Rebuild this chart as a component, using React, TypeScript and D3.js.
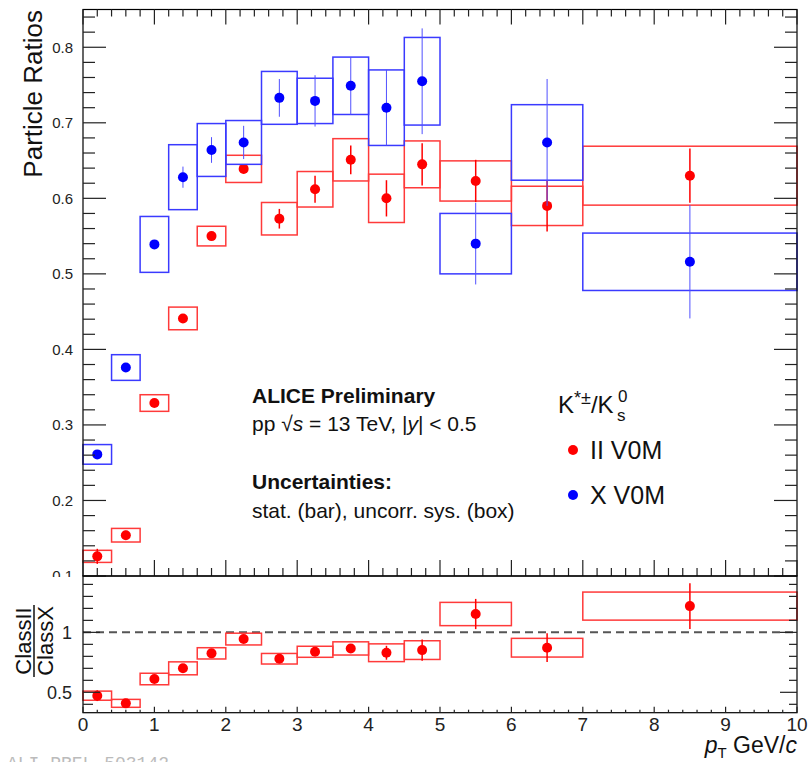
import React from "react";
import * as d3 from "d3";

// pT bins (GeV/c)
const binLo = [0, 0.4, 0.8, 1.2, 1.6, 2.0, 2.5, 3.0, 3.5, 4.0, 4.5, 5, 6, 7];
const binHi = [0.4, 0.8, 1.2, 1.6, 2.0, 2.5, 3.0, 3.5, 4.0, 4.5, 5, 6, 7, 10];
const ptCenter = [0.2, 0.6, 1.0, 1.4, 1.8, 2.25, 2.75, 3.25, 3.75, 4.25, 4.75, 5.5, 6.5, 8.5];

// class II V0M
const iiVal = [0.126, 0.154, 0.329, 0.441, 0.55, 0.639, 0.573, 0.612, 0.651, 0.6, 0.645, 0.623, 0.59, 0.63];
const iiStat = [0.01, 0.006, 0.005, 0.005, 0.005, 0.006, 0.013, 0.018, 0.019, 0.024, 0.028, 0.028, 0.034, 0.036];
const iiSys = [0.008, 0.009, 0.011, 0.015, 0.013, 0.018, 0.0215, 0.0235, 0.028, 0.032, 0.031, 0.0266, 0.026, 0.039];

// class X V0M
const xVal = [0.261, 0.376, 0.539, 0.628, 0.664, 0.674, 0.733, 0.729, 0.749, 0.72, 0.755, 0.54, 0.674, 0.516];
const xStat = [0.004, 0.005, 0.005, 0.014, 0.017, 0.022, 0.025, 0.034, 0.038, 0.05, 0.07, 0.054, 0.084, 0.075];
const xSys = [0.013, 0.017, 0.037, 0.043, 0.035, 0.029, 0.035, 0.03, 0.038, 0.05, 0.058, 0.04, 0.05, 0.038];

// ratio II / X
const ratioVal = [0.472, 0.408, 0.611, 0.7, 0.825, 0.944, 0.78, 0.838, 0.866, 0.83, 0.852, 1.153, 0.872, 1.219];
const ratioStat = [0.045, 0.015, 0.012, 0.012, 0.012, 0.015, 0.015, 0.02, 0.03, 0.058, 0.089, 0.126, 0.12, 0.19];
const ratioSys = [0.038, 0.033, 0.048, 0.054, 0.047, 0.049, 0.044, 0.046, 0.055, 0.074, 0.078, 0.097, 0.078, 0.117];

const xTicks = [0, 1, 2, 3, 4, 5, 6, 7, 8, 9, 10];
const topYTicks = [0.1, 0.2, 0.3, 0.4, 0.5, 0.6, 0.7, 0.8];
const ratioYTicks = [0.5, 1];

const RED = "#ff0000";
const BLUE = "#0000ff";
const FONT = "'Liberation Sans', Arial, sans-serif";

const L = 83, R = 797, T = 9.5, MID = 576, B = 712.7;

const App = () => {
  const x = d3.scaleLinear().domain([0, 10]).range([L, R]);
  const y = d3.scaleLinear().domain([0.1, 0.85]).range([MID, T]);
  const yr = d3.scaleLinear().domain([0.33, 1.47]).range([B, MID]);

  const xMinor = d3.range(0, 10.001, 0.2);
  const yMinor = d3.range(0.1, 0.851, 0.02);
  const yrMinor = d3.range(0.4, 1.47, 0.1);

  const series = (vals, stat, sys, color, boxColor, statColor, statW, yS) => (
    <g>
      {vals.map((v, i) => (
        <rect key={"b" + i} x={x(binLo[i])} y={yS(v + sys[i])}
          width={x(binHi[i]) - x(binLo[i])} height={yS(v - sys[i]) - yS(v + sys[i])}
          fill="none" stroke={boxColor} strokeWidth={1.5} />
      ))}
      {vals.map((v, i) => (
        <line key={"s" + i} x1={x(ptCenter[i])} x2={x(ptCenter[i])}
          y1={yS(v + stat[i])} y2={yS(v - stat[i])} stroke={statColor} strokeWidth={statW} />
      ))}
      {vals.map((v, i) => (
        <circle key={"p" + i} cx={x(ptCenter[i])} cy={yS(v)} r={5} fill={color} />
      ))}
    </g>
  );

  return (
    <svg width={808} height={762} style={{ position: "absolute", left: 0, top: 0, background: "#fff" }}
      fontFamily={FONT}>
      <rect width={808} height={762} fill="#fff" />

      {/* top panel data */}
      {series(iiVal, iiStat, iiSys, RED, "#ff3a3a", RED, 1.5, y)}
      {series(xVal, xStat, xSys, BLUE, "#3a3aff", "#5050ff", 1, y)}

      {/* top panel frame & ticks */}
      <rect x={L} y={T} width={R - L} height={MID - T} fill="none" stroke="#000" strokeWidth={1.2} />
      {yMinor.map((t, i) => {
        const major = Math.abs(t * 10 - Math.round(t * 10)) < 1e-6;
        const len = major ? 23 : 12;
        return (
          <g key={"ym" + i} stroke="#222" strokeWidth={1.2}>
            <line x1={L} x2={L + len} y1={y(t)} y2={y(t)} />
            <line x1={R} x2={R - len} y1={y(t)} y2={y(t)} />
          </g>
        );
      })}
      {xMinor.map((t, i) => {
        const major = Math.abs(t - Math.round(t)) < 1e-6;
        return (
          <g key={"xm" + i} stroke="#222" strokeWidth={1.2}>
            <line x1={x(t)} x2={x(t)} y1={T} y2={T + (major ? 15 : 7)} />
            <line x1={x(t)} x2={x(t)} y1={MID} y2={MID - (major ? 16 : 8)} />
          </g>
        );
      })}
      {topYTicks.map((t) => (
        <text key={"yl" + t} x={73} y={y(t)} dy="0.36em" textAnchor="end" fontSize={15} fill="#222">
          {t.toFixed(1)}
        </text>
      ))}

      {/* y title */}
      <text transform={`translate(42,10) rotate(-90)`} textAnchor="end" fontSize={26} fill="#111">
        Particle Ratios
      </text>

      {/* annotations */}
      <g fill="#111">
        <text x={252} y={403} fontSize={21} fontWeight="bold">ALICE Preliminary</text>
        <text x={252} y={431} fontSize={21}>
          pp <tspan>√</tspan><tspan fontStyle="italic">s</tspan> = 13 TeV, |<tspan fontStyle="italic">y</tspan>| &lt; 0.5
        </text>
        <text x={252} y={489} fontSize={21} fontWeight="bold">Uncertainties:</text>
        <text x={252} y={518} fontSize={21}>stat. (bar), uncorr. sys. (box)</text>
      </g>

      {/* legend */}
      <g fill="#111">
        <text x={558} y={413} fontSize={24}>
          K<tspan fontSize={18} dy={-9}>*±</tspan><tspan dy={9}>/K</tspan>
        </text>
        <text x={617} y={421} fontSize={17}>s</text>
        <text x={618} y={402} fontSize={17}>0</text>
        <circle cx={573} cy={450} r={5} fill={RED} />
        <text x={590} y={459} fontSize={25}>II V0M</text>
        <circle cx={573} cy={495} r={5} fill={BLUE} />
        <text x={590} y={504} fontSize={25}>X V0M</text>
      </g>

      {/* cover for cut 0.1 label */}
      <rect x={0} y={MID + 1} width={L} height={B - MID} fill="#fff" />

      {/* ratio panel */}
      <line x1={L} x2={R} y1={yr(1)} y2={yr(1)} stroke="#555" strokeWidth={2} strokeDasharray="8,5" />
      {series(ratioVal, ratioStat, ratioSys, RED, "#ff3a3a", RED, 1.5, yr)}
      <rect x={L} y={MID} width={R - L} height={B - MID} fill="none" stroke="#000" strokeWidth={1.2} />
      {yrMinor.map((t, i) => {
        const major = Math.abs(t - 0.5) < 1e-6 || Math.abs(t - 1) < 1e-6;
        return (
          <g key={"yr" + i} stroke="#222" strokeWidth={1.2}>
            <line x1={L} x2={L + (major ? 17 : 10)} y1={yr(t)} y2={yr(t)} />
            <line x1={R} x2={R - (major ? 17 : 8)} y1={yr(t)} y2={yr(t)} />
          </g>
        );
      })}
      {xMinor.map((t, i) => {
        const major = Math.abs(t - Math.round(t)) < 1e-6;
        return (
          <line key={"xb" + i} x1={x(t)} x2={x(t)} y1={B} y2={B - (major ? 6 : 3)} stroke="#222" strokeWidth={1.2} />
        );
      })}
      {ratioYTicks.map((t) => (
        <text key={"ry" + t} x={72} y={yr(t)} dy="0.36em" textAnchor="end" fontSize={18} fill="#222">
          {t === 1 ? "1" : "0.5"}
        </text>
      ))}
      {xTicks.map((t) => (
        <text key={"xl" + t} x={x(t)} y={731} textAnchor="middle" fontSize={19} fill="#222">
          {t}
        </text>
      ))}

      {/* ratio title as fraction */}
      <g transform="translate(34,641) rotate(-90)" fill="#111">
        <text x={0} y={-3} textAnchor="middle" fontSize={22}>ClassII</text>
        <line x1={-36} x2={36} y1={0} y2={0} stroke="#111" strokeWidth={1.5} />
        <text x={0} y={19} textAnchor="middle" fontSize={22}>ClassX</text>
      </g>

      {/* x title */}
      <text x={797} y={753} textAnchor="end" fontSize={23} fill="#111">
        <tspan fontStyle="italic">p</tspan>
        <tspan fontSize={15} dy={5}>T</tspan>
        <tspan dy={-5}> GeV/</tspan>
        <tspan fontStyle="italic">c</tspan>
      </text>

      {/* watermark */}
      <text x={7} y={769} fontSize={18} fontFamily="'Liberation Mono', monospace" fill="#bbb">
        ALI-PREL-503142
      </text>
    </svg>
  );
};

export default App;
